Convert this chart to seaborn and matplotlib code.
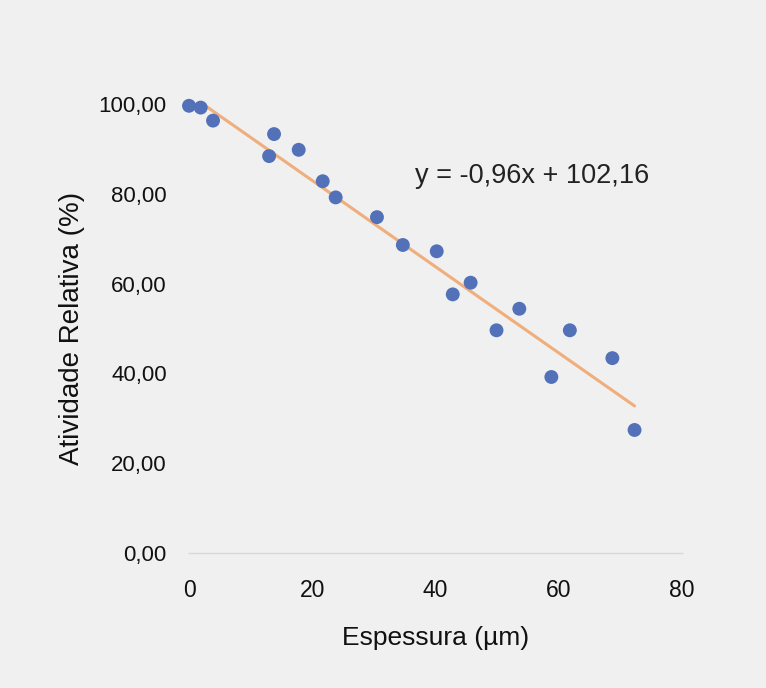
import matplotlib
matplotlib.use("Agg")
import matplotlib.pyplot as plt
import seaborn as sns
import numpy as np
import pandas as pd

# Data
espessura = [0.0, 1.9, 3.9, 13.0, 13.8, 17.8, 21.7, 23.8, 30.5, 34.7,
             40.2, 42.8, 45.7, 49.9, 53.6, 58.8, 61.8, 68.7, 72.3]
atividade = [99.6, 99.2, 96.3, 88.4, 93.3, 89.8, 82.8, 79.2, 74.8, 68.6,
             67.2, 57.6, 60.2, 49.6, 54.4, 39.2, 49.6, 43.4, 27.4]
slope = -0.96
intercept = 102.16
eq_label = "y = -0,96x + 102,16"
x_ticks = [0, 20, 40, 60, 80]
y_ticks = [0, 20, 40, 60, 80, 100]

df = pd.DataFrame({"x": espessura, "y": atividade})
trend_x = np.array([min(espessura), max(espessura)])
trend = pd.DataFrame({"x": trend_x, "y": slope * trend_x + intercept})

sns.set_theme(style="white")
plt.rcParams["font.family"] = ["Liberation Sans", "DejaVu Sans"]

bg = "#f0f0f0"
fig = plt.figure(figsize=(7.66, 6.88), dpi=100, facecolor=bg)
ax = fig.add_axes([189 / 766, 1 - 553 / 688, (682 - 189) / 766, (553 - 104) / 688])
ax.set_facecolor(bg)

sns.lineplot(data=trend, x="x", y="y", ax=ax, color="#efae7c", linewidth=2.2, zorder=2)
sns.scatterplot(data=df, x="x", y="y", ax=ax, color="#5271b8", s=100,
                edgecolor="none", zorder=3, clip_on=False)

ax.set_xlim(0, 80)
ax.set_ylim(0, 100)
ax.set_xticks(x_ticks)
ax.set_xticklabels([str(v) for v in x_ticks], fontsize=16.5, color="#111111")
ax.set_yticks(y_ticks)
ax.set_yticklabels([f"{v:.2f}".replace(".", ",") for v in y_ticks], fontsize=16, color="#111111")
ax.tick_params(axis="x", length=0, pad=19)
ax.tick_params(axis="y", length=0, pad=16)

for s in ["top", "right", "left"]:
    ax.spines[s].set_visible(False)
ax.spines["bottom"].set_color("#d8d8d8")
ax.spines["bottom"].set_linewidth(1)

ax.set_xlabel("Espessura (µm)", fontsize=19, color="#111111", labelpad=17)
ax.set_ylabel("Atividade Relativa (%)", fontsize=20, color="#111111", labelpad=10)

ax.text(415 / 766, 1 - 176 / 688, eq_label, transform=fig.transFigure, fontsize=19.5,
        color="#222222", ha="left", va="center")

fig.savefig("out.png", dpi=100, facecolor=bg)
